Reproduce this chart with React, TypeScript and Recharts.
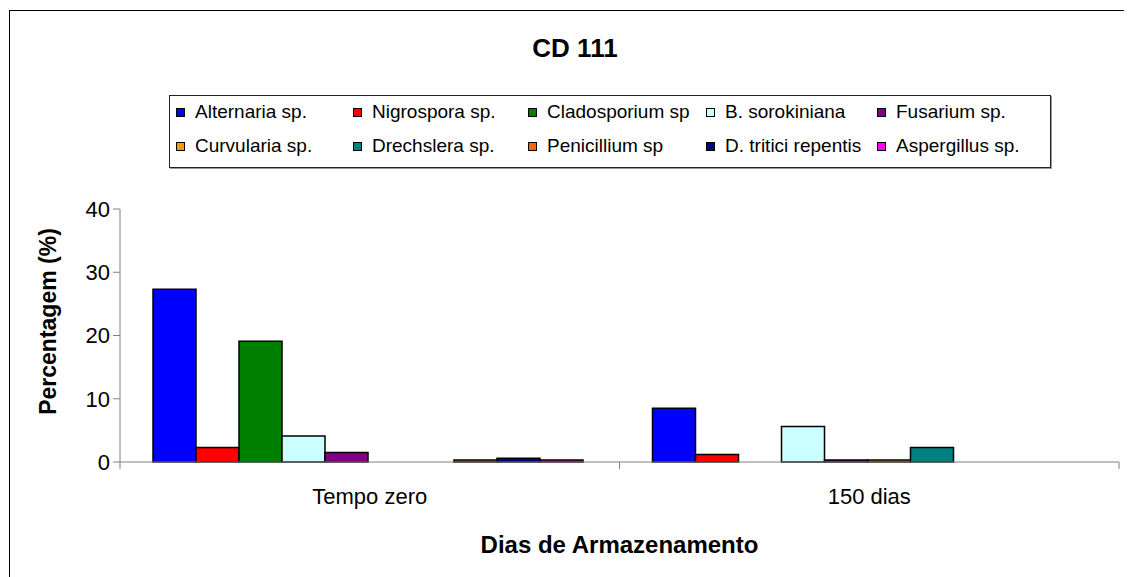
import { BarChart, Bar, XAxis, YAxis, Legend } from "recharts";

const CATEGORIES = ["Tempo zero", "150 dias"];

// % de incidência em cada tempo de armazenamento
const ALTERNARIA = [27.3, 8.5];
const NIGROSPORA = [2.3, 1.2];
const CLADOSPORIUM = [19.1, 0];
const SOROKINIANA = [4.1, 5.6];
const FUSARIUM = [1.5, 0.3];
const CURVULARIA = [0, 0.3];
const DRECHSLERA = [0, 2.3];
const PENICILLIUM = [0.3, 0];
const TRITICI = [0.6, 0];
const ASPERGILLUS = [0.3, 0];

const Y_TICKS = [0, 10, 20, 30, 40];

const SERIES = [
  { name: "Alternaria sp.", values: ALTERNARIA, color: "#0000FF" },
  { name: "Nigrospora sp.", values: NIGROSPORA, color: "#FF0000" },
  { name: "Cladosporium sp", values: CLADOSPORIUM, color: "#008000" },
  { name: "B. sorokiniana", values: SOROKINIANA, color: "#CCFFFF" },
  { name: "Fusarium sp.", values: FUSARIUM, color: "#800080" },
  { name: "Curvularia sp.", values: CURVULARIA, color: "#FF9900" },
  { name: "Drechslera sp.", values: DRECHSLERA, color: "#008080" },
  { name: "Penicillium sp", values: PENICILLIUM, color: "#FF6600" },
  { name: "D. tritici repentis", values: TRITICI, color: "#000080" },
  { name: "Aspergillus sp.", values: ASPERGILLUS, color: "#FF00FF" },
];

const data = CATEGORIES.map((cat, i) => {
  const row: Record<string, string | number> = { dias: cat };
  SERIES.forEach((s) => {
    row[s.name] = s.values[i];
  });
  return row;
});

const FONT = "'Liberation Sans', Arial, sans-serif";
const AXIS_GRAY = "#808080";

function CategoryTick(props: any) {
  const { x, y, payload, index, width } = props;
  const band = (typeof width === "number" ? width : 999) / CATEGORIES.length;
  return (
    <g>
      {index === 0 && (
        <line x1={x - band / 2} x2={x - band / 2} y1={y} y2={y + 7} stroke={AXIS_GRAY} />
      )}
      <line x1={x + band / 2} x2={x + band / 2} y1={y} y2={y + 7} stroke={AXIS_GRAY} />
      <text x={x} y={y + 42} textAnchor="middle" fontSize={22} fill="#000" fontFamily={FONT}>
        {payload.value}
      </text>
    </g>
  );
}

function LegendBox() {
  return (
    <div
      style={{
        width: 882,
        height: 73,
        boxSizing: "border-box",
        border: "1px solid #222",
        boxShadow: "1px 1px 0 #999",
        background: "#fff",
        display: "grid",
        gridTemplateColumns: "177px 175px 178px 171px auto",
        gridTemplateRows: "32px 36px",
        paddingLeft: 6,
        fontFamily: FONT,
        fontSize: 19,
        color: "#000",
      }}
    >
      {SERIES.map((s) => (
        <div key={s.name} style={{ display: "flex", alignItems: "center", whiteSpace: "nowrap" }}>
          <span
            style={{
              width: 9,
              height: 9,
              boxSizing: "border-box",
              border: "1px solid #000",
              background: s.color,
              marginRight: 10,
              flexShrink: 0,
            }}
          />
          {s.name}
        </div>
      ))}
    </div>
  );
}

export default function App() {
  return (
    <div style={{ position: "relative", width: 1124, height: 569, overflow: "hidden", background: "#fff" }}>
      <div
        style={{
          position: "absolute",
          left: 1,
          top: 2,
          width: 1400,
          height: 800,
          borderLeft: "1px solid #000",
          borderTop: "1px solid #000",
        }}
      />
      <div
        style={{
          position: "absolute",
          left: 0,
          top: 27,
          width: 1134,
          textAlign: "center",
          fontFamily: FONT,
          fontWeight: "bold",
          fontSize: 26,
          lineHeight: "26px",
        }}
      >
        CD 111
      </div>
      <div style={{ position: "absolute", left: 0, top: 0 }}>
        <BarChart
          width={1124}
          height={569}
          data={data}
          margin={{ top: 201, right: 13, bottom: 0, left: 0 }}
          barCategoryGap={33}
          barGap={0}
        >
          <XAxis
            dataKey="dias"
            height={115}
            interval={0}
            tickSize={0}
            tickMargin={0}
            tickLine={false}
            axisLine={{ stroke: AXIS_GRAY }}
            tick={<CategoryTick />}
            label={{
              content: (p: any) => (
                <text
                  x={p.viewBox.x + p.viewBox.width / 2}
                  y={p.viewBox.y + 91}
                  textAnchor="middle"
                  fontSize={24}
                  fontWeight="bold"
                  fontFamily={FONT}
                  fill="#000"
                >
                  Dias de Armazenamento
                </text>
              ),
            }}
          />
          <YAxis
            width={112}
            domain={[0, 40]}
            ticks={Y_TICKS}
            interval={0}
            tickSize={7}
            tickMargin={3}
            axisLine={{ stroke: AXIS_GRAY }}
            tickLine={{ stroke: AXIS_GRAY }}
            tick={{ fontSize: 22, fill: "#000", fontFamily: FONT }}
            label={{
              content: (p: any) => {
                const cx = 40;
                const cy = p.viewBox.y + p.viewBox.height / 2 - 14;
                return (
                  <text
                    x={cx}
                    y={cy}
                    transform={`rotate(-90 ${cx} ${cy})`}
                    textAnchor="middle"
                    dominantBaseline="central"
                    fontSize={23}
                    fontWeight="bold"
                    fontFamily={FONT}
                    fill="#000"
                  >
                    Percentagem (%)
                  </text>
                );
              },
            }}
          />
          <Legend
            layout="horizontal"
            verticalAlign="middle"
            align="center"
            content={() => <LegendBox />}
            wrapperStyle={{ top: 87, left: 161, width: 882, height: 73 }}
          />
          {SERIES.map((s) => (
            <Bar
              key={s.name}
              dataKey={s.name}
              fill={s.color}
              stroke="#000"
              strokeWidth={1.5}
              isAnimationActive={false}
            />
          ))}
        </BarChart>
      </div>
    </div>
  );
}
